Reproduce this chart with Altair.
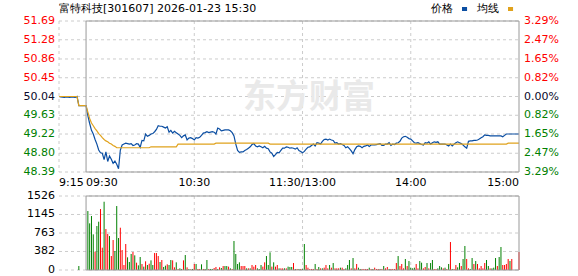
import altair as alt
import pandas as pd

TITLE = "富特科技[301607] 2026-01-23 15:30"
PREV_CLOSE = 50.04
PRE_START, SESSION_START, SESSION_END = -15, 0, 240

# ---- price line (minutes from 09:30; negative = pre-market auction) ----
pre_minutes = [-15, -14, -12, -11, -9, -8, -6, -5, -4]
pre_prices = [50.04, 50.03, 50.02, 50.03, 50.02, 50.03, 50.02, 50.04, 49.84]

session_prices = [
    49.84, 49.62, 49.45, 49.30, 49.22, 49.10, 49.00, 48.87, 48.81, 48.80,
    48.66, 48.83, 48.62, 48.74, 48.67, 48.58, 48.63, 48.56, 48.46, 48.87,
    48.98, 49.00, 49.02, 49.01, 49.00, 49.01, 48.97, 48.98, 49.01, 49.00,
    48.93, 49.08, 49.07, 49.22, 49.17, 49.19, 49.22, 49.23, 49.27, 49.32,
    49.40, 49.39, 49.39, 49.37, 49.35, 49.38, 49.26, 49.30, 49.24, 49.28,
    49.25, 49.22, 49.19, 49.14, 49.18, 49.20, 49.09, 49.13, 49.14, 49.12,
    49.09, 49.14, 49.13, 49.15, 49.19, 49.24, 49.25, 49.27, 49.25, 49.26,
    49.27, 49.26, 49.22, 49.35, 49.33, 49.29, 49.30, 49.31, 49.31, 49.31,
    49.29, 49.25, 49.18, 49.00, 48.86, 48.82, 48.83, 48.83, 48.86, 48.88,
    48.91, 48.94, 48.99, 49.01, 48.96, 48.94, 48.96, 48.94, 48.92, 48.95,
    48.91, 48.90, 48.83, 48.80, 48.73, 48.77, 48.82, 48.81, 48.86, 48.91,
    48.91, 48.94, 48.93, 48.91, 48.92, 48.91, 48.89, 48.92, 48.86, 48.84,
    48.81, 48.84, 48.89, 48.93, 48.94, 48.97, 49.00, 48.96, 49.03, 49.02,
    49.00, 49.06, 49.10, 49.11, 49.09, 49.11, 49.09, 49.08, 49.02, 49.03,
    49.00, 49.01, 48.99, 48.97, 48.92, 48.94, 48.90, 48.85, 48.79, 48.88,
    48.94, 48.96, 48.95, 48.92, 48.95, 48.96, 48.98, 48.95, 48.98, 48.98,
    48.98, 48.99, 49.00, 49.01, 48.97, 48.97, 49.00, 49.00, 49.03, 48.97,
    49.00, 48.99, 49.02, 49.03, 49.06, 49.13, 49.16, 49.17, 49.15, 49.12,
    49.11, 49.07, 49.03, 49.02, 49.03, 49.01, 48.99, 48.98, 49.03, 49.02,
    49.05, 49.00, 49.03, 49.05, 49.04, 49.05, 49.00, 49.00, 49.00, 49.00,
    48.98, 48.96, 49.00, 48.96, 49.00, 49.03, 49.05, 49.03, 49.01, 48.98,
    48.94, 48.91, 49.06, 49.07, 49.07, 49.08, 49.08, 49.09, 49.11, 49.14,
    49.16, 49.20, 49.19, 49.19, 49.18, 49.18, 49.18, 49.18, 49.18, 49.18,
    49.18, 49.16, 49.19, 49.22, 49.22, 49.22, 49.22, 49.22, 49.22, 49.22,
    49.22,
]

# ---- average price line (vertices) ----
avg_minutes = [-15, -5, -4, 0, 1, 2, 3, 4, 5, 6, 7, 8, 9, 10, 11, 12, 13, 14,
               15, 16, 17, 35, 36, 50, 51, 71, 72, 101, 102, 233, 234, 240]
avg_prices = [50.04, 50.04, 49.84, 49.84, 49.70, 49.56, 49.46, 49.40, 49.34,
              49.29, 49.23, 49.19, 49.14, 49.10, 49.07, 49.05, 49.02, 49.00,
              48.97, 48.95, 48.92, 48.92, 48.94, 48.94, 49.00, 49.00, 49.02,
              49.02, 49.00, 49.00, 49.02, 49.02]

# ---- volume (auction bar at 9:25, then minutes 1..240) ----
auction_minute, auction_volume, auction_dir = -4, 82, "G"
volumes = [
    1216, 962, 1113, 735, 378, 907, 996, 1257, 460, 1408,
    845, 742, 700, 288, 618, 391, 1319, 659, 872, 412,
    103, 536, 261, 165, 330, 371, 302, 151, 96, 268,
    124, 69, 179, 103, 130, 199, 103, 350, 350, 288,
    165, 206, 62, 89, 117, 103, 206, 199, 55, 158,
    21, 34, 21, 199, 309, 55, 21, 14, 21, 124,
    124, 21, 21, 117, 21, 21, 206, 21, 21, 21,
    41, 62, 21, 55, 41, 82, 82, 82, 69, 34,
    21, 598, 330, 124, 158, 82, 82, 82, 34, 34,
    34, 103, 69, 103, 34, 21, 103, 69, 158, 288,
    103, 364, 69, 158, 69, 103, 34, 34, 34, 34,
    34, 69, 62, 62, 144, 21, 21, 21, 21, 21,
    536, 103, 48, 21, 21, 21, 124, 21, 62, 34,
    34, 48, 103, 34, 103, 48, 144, 34, 34, 34,
    48, 48, 21, 34, 103, 206, 34, 247, 34, 124,
    48, 21, 21, 21, 21, 21, 48, 21, 21, 48,
    21, 21, 21, 21, 82, 34, 62, 21, 21, 21,
    21, 144, 288, 82, 124, 34, 227, 82, 185, 48,
    34, 48, 124, 34, 185, 151, 34, 62, 144, 34,
    144, 206, 21, 21, 34, 82, 55, 34, 48, 21,
    124, 577, 21, 21, 103, 55, 144, 82, 227, 495,
    227, 34, 21, 247, 124, 185, 124, 34, 82, 34,
    144, 206, 82, 34, 34, 48, 247, 82, 268, 474,
    103, 103, 124, 227, 185, 227, 0, 0, 0, 371,
]
vol_dirs = (
    "GGGGRGGRRG" "RRGRRGGGRR" "RRGGGRGRGG" "RGRGRGGRRR" "GRGGRGGRRG"
    "RGGRGRGRGR" "GRRGRGGRGG" "RRGRGRGGRG" "RGGGGRRRGR" "GRRRGGGRRG"
    "GGRGRRGRRG" "RGGGRGRGRG" "GRRRRRGRGR" "GRRRGRGRRR" "GRRGGGRGRR"
    "GGRRRRGRGR" "RRGRGRRGRR" "RRGRRRGRGG" "GGRRGGRRGR" "GGRRGGGRGR"
    "GRGRRGGRGG" "RRGGRGRRRR" "RGGRGGGRGG" "RRRRGRRRRR"
)

# ---- axis ticks / labels ----
price_ticks = [51.69, 51.28, 50.86, 50.45, 50.04, 49.63, 49.22, 48.80, 48.39]
price_labels = ["51.69", "51.28", "50.86", "50.45", "50.04", "49.63", "49.22", "48.80", "48.39"]
pct_labels = ["3.29%", "2.47%", "1.65%", "0.82%", "0.00%", "0.82%", "1.65%", "2.47%", "3.29%"]
vol_ticks = [1526, 1145, 763, 382, 0]
vol_labels = ["1526", "1145", "763", "382", "0"]
time_ticks = [-15, 0, 60, 120, 180, 240]
time_labels = ["9:15", "09:30", "10:30", "11:30/13:00", "14:00", "15:00"]
vgrid_price = [-15, 60, 120, 180]
vgrid_vol = [60, 120, 180]
legend_names = ["价格", "均线"]

# ---- styling ----
W, HP, HV = 460, 151, 74
PAD_L, PAD_R, PAD_T, PAD_B = 59, 59, 21, 6
FONT = "DejaVu Sans"
FS = 11
BLUE, GOLD = "#0b4ea2", "#e0a21c"
RED, GREEN, DARK = "#ff0000", "#008000", "#0a0a2a"
GRID, FRAME = "#cccccc", "#999999"

side_color = alt.Color("side:N", legend=None,
                       scale=alt.Scale(domain=["up", "flat", "down"], range=[RED, DARK, GREEN]))
xs = alt.Scale(domain=[PRE_START, SESSION_END], nice=False, zero=False)
ys_p = alt.Scale(domain=[min(price_ticks), max(price_ticks)], nice=False, zero=False)
ys_v = alt.Scale(domain=[min(vol_ticks), max(vol_ticks)], nice=False, zero=False)


def side_of(v):
    if v > PREV_CLOSE + 1e-9:
        return "up"
    if v < PREV_CLOSE - 1e-9:
        return "down"
    return "flat"


price_df = pd.DataFrame({
    "minute": pre_minutes + list(range(SESSION_START, SESSION_END + 1)),
    "price": pre_prices + session_prices,
})
avg_df = pd.DataFrame({"minute": avg_minutes, "price": avg_prices})
vol_df = pd.DataFrame({
    "minute": [auction_minute] + list(range(1, SESSION_END + 1)),
    "vol": [auction_volume] + volumes,
    "side": ["up" if d == "R" else "down" for d in auction_dir + vol_dirs],
})
pt_df = pd.DataFrame({
    "value": price_ticks, "label": price_labels, "pct": pct_labels,
    "side": [side_of(v) for v in price_ticks],
})
vt_df = pd.DataFrame({"value": vol_ticks, "label": vol_labels})
tt_df = pd.DataFrame({"minute": time_ticks, "label": time_labels, "idx": range(len(time_ticks))})
one = pd.DataFrame({"k": [0]})


def X():
    return alt.X("minute:Q", scale=xs, axis=None)


# invisible boxes that fix the outer bounds of the figure (page margins)
p_bounds = alt.Chart(one).mark_rect(opacity=0).encode(
    x=alt.value(-PAD_L), x2=alt.value(W + PAD_R), y=alt.value(-PAD_T), y2=alt.value(HP))
v_bounds = alt.Chart(one).mark_rect(opacity=0).encode(
    x=alt.value(-PAD_L), x2=alt.value(W + PAD_R), y=alt.value(0), y2=alt.value(HV + PAD_B))

# ================= price panel =================
p_hgrid = alt.Chart(pt_df).mark_rule(color=GRID, strokeDash=[3, 3], strokeWidth=1).encode(
    y=alt.Y("value:Q", scale=ys_p, axis=None), x=alt.value(0), x2=alt.value(W))
p_vgrid = alt.Chart(pd.DataFrame({"minute": vgrid_price})).mark_rule(
    color=GRID, strokeDash=[3, 3], strokeWidth=1).encode(x=X(), y=alt.value(0), y2=alt.value(HP))
watermark = alt.Chart(one).mark_text(text="东方财富", font="Noto Sans CJK SC", fontSize=33,
                                     fontWeight="bold", color="#e9e9e9", align="center",
                                     baseline="middle").encode(x=alt.value(250), y=alt.value(77))
price_line = alt.Chart(price_df).mark_line(color=BLUE, strokeWidth=1.2).encode(
    x=X(), y=alt.Y("price:Q", scale=ys_p, axis=None))
avg_line = alt.Chart(avg_df).mark_line(color=GOLD, strokeWidth=1.2).encode(
    x=X(), y=alt.Y("price:Q", scale=ys_p, axis=None))
frame_p = alt.Chart(pd.DataFrame({"a": [SESSION_START], "b": [SESSION_END]})).mark_rect(
    fillOpacity=0, stroke=FRAME, strokeWidth=1).encode(
    x=alt.X("a:Q", scale=xs, axis=None), x2="b:Q", y=alt.value(0), y2=alt.value(HP))
left_lab = alt.Chart(pt_df).mark_text(align="right", baseline="middle", font=FONT, fontSize=FS).encode(
    y=alt.Y("value:Q", scale=ys_p, axis=None), x=alt.value(-4), text="label:N", color=side_color)
right_lab = alt.Chart(pt_df).mark_text(align="left", baseline="middle", font=FONT, fontSize=FS).encode(
    y=alt.Y("value:Q", scale=ys_p, axis=None), x=alt.value(W + 5), text="pct:N", color=side_color)


def time_layer(filt, align):
    return alt.Chart(tt_df).transform_filter(filt).mark_text(
        align=align, baseline="middle", font=FONT, fontSize=FS, color="#000").encode(
        x=X(), y=alt.value(HP + 11), text="label:N")


t_left = time_layer("datum.idx <= 1", "left")
t_center = time_layer("datum.idx >= 2 && datum.idx <= 4", "center")
t_right = time_layer("datum.idx == 5", "right")

title_t = alt.Chart(one).mark_text(text=TITLE, align="left", baseline="middle", font=FONT,
                                   fontSize=FS, color="#000").encode(x=alt.value(0), y=alt.value(-12))
leg_df = pd.DataFrame({"name": legend_names, "i": [0, 1]})
leg_txt = alt.Chart(leg_df).mark_text(align="left", baseline="middle", font=FONT, fontSize=FS,
                                      color="#000").encode(
    x=alt.X("i:Q", scale=alt.Scale(domain=[0, 1], range=[372, 418]), axis=None),
    y=alt.value(-12), text="name:N")
leg_sw = alt.Chart(leg_df).mark_rect().encode(
    x=alt.X("i:Q", scale=alt.Scale(domain=[0, 1], range=[403, 449]), axis=None),
    x2=alt.X2("e:Q"), y=alt.value(-14), y2=alt.value(-10),
    color=alt.Color("name:N", legend=None, scale=alt.Scale(domain=legend_names, range=[BLUE, GOLD])),
).transform_calculate(e="datum.i + 0.11")

price_panel = alt.layer(
    p_bounds, p_hgrid, p_vgrid, watermark, price_line, avg_line, frame_p,
    left_lab, right_lab, t_left, t_center, t_right, title_t, leg_txt, leg_sw,
).resolve_scale(x="independent", color="independent").properties(width=W, height=HP)

# ================= volume panel =================
v_hgrid = alt.Chart(vt_df).mark_rule(color=GRID, strokeDash=[3, 3], strokeWidth=1).encode(
    y=alt.Y("value:Q", scale=ys_v, axis=None), x=alt.value(0), x2=alt.value(W))
v_vgrid = alt.Chart(pd.DataFrame({"minute": vgrid_vol})).mark_rule(
    color=GRID, strokeDash=[3, 3], strokeWidth=1).encode(x=X(), y=alt.value(0), y2=alt.value(HV))
bars = alt.Chart(vol_df).mark_rule(strokeWidth=1).encode(
    x=X(), y=alt.Y("vol:Q", scale=ys_v, axis=None), y2=alt.datum(0),
    color=alt.Color("side:N", legend=None,
                    scale=alt.Scale(domain=["up", "flat", "down"], range=[RED, DARK, GREEN])))
frame_v = alt.Chart(pd.DataFrame({"a": [SESSION_START], "b": [SESSION_END]})).mark_rect(
    fillOpacity=0, stroke=FRAME, strokeWidth=1).encode(
    x=alt.X("a:Q", scale=xs, axis=None), x2="b:Q", y=alt.value(0), y2=alt.value(HV))
vol_lab = alt.Chart(vt_df).mark_text(align="right", baseline="middle", font=FONT, fontSize=FS,
                                     color="#000").encode(
    y=alt.Y("value:Q", scale=ys_v, axis=None), x=alt.value(-4), text="label:N")

vol_panel = alt.layer(v_bounds, v_hgrid, v_vgrid, bars, frame_v, vol_lab).properties(width=W, height=HV)

chart = alt.vconcat(price_panel, vol_panel, spacing=24, bounds="flush").resolve_scale(
    y="independent", color="independent"
).properties(
    padding=0,
).configure_view(stroke=None)

chart.save("out.html", embed_options={"renderer": "svg", "actions": False})
